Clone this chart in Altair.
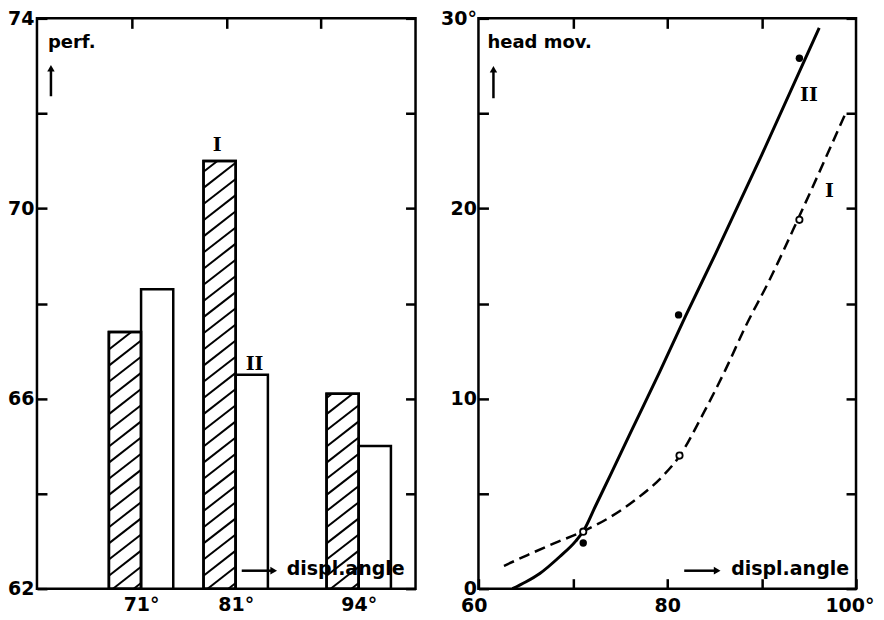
import altair as alt
import pandas as pd

# ---------------- data ----------------
# Left panel: performance per displacement angle
angles = [71, 81, 94]
perf_I = [67.4, 71.0, 66.1]     # hatched bars
perf_II = [68.3, 66.5, 65.0]    # open bars

# Right panel: head movement vs displacement angle
curve_II_x = [63.6, 65.0, 66.5, 68.6, 70.3, 71.2, 72.4, 74.0, 76.1, 79.2, 82.0, 85.2, 90.0, 96.1]
curve_II_y = [0.0, 0.35, 0.8, 1.68, 2.5, 3.1, 4.35, 6.0, 8.2, 11.4, 14.4, 17.7, 22.8, 29.5]
curve_I_x = [62.7, 65.2, 68.0, 71.1, 74.0, 76.8, 79.6, 81.3, 83.7, 86.2, 88.3, 90.8, 94.0, 98.8]
curve_I_y = [1.2, 1.77, 2.38, 3.02, 3.78, 4.74, 5.96, 6.97, 9.1, 11.55, 13.8, 16.2, 19.6, 24.9]
pts_II_x = [71.1, 81.2, 94.0]
pts_II_y = [2.4, 14.4, 27.9]
pts_I_x = [71.1, 81.3, 94.0]
pts_I_y = [3.0, 7.0, 19.4]

left_y_ticks = [62, 64, 66, 68, 70, 72, 74]
right_y_ticks = [0, 5, 10, 15, 20, 25, 30]
x_ticks = [60, 70, 80, 90, 100]
inner_x_ticks = [70, 80, 90]

# ---------------- styling constants ----------------
W, H = 379, 571
BAR_W = 3.4
HATCH_SLOPE = 0.155
HATCH_STEP = 0.34
FONT = "DejaVu Sans"
TICK = 10

bars = pd.DataFrame({"angle": angles, "I": perf_I, "II": perf_II})
bars["x0"] = bars["angle"] - BAR_W
bars["x1"] = bars["angle"] + BAR_W

# hatch lines derived from the hatched bars
rows = []
for a, top in zip(angles, perf_I):
    x0, x1 = a - BAR_W, a
    c = 62 - HATCH_SLOPE * BAR_W + 0.12
    while c < top:
        xs = max(x0, x0 + (62 - c) / HATCH_SLOPE)
        xe = min(x1, x0 + (top - c) / HATCH_SLOPE)
        if xe > xs:
            rows.append(dict(x=xs, x2=xe, y=c + HATCH_SLOPE * (xs - x0),
                             y2=c + HATCH_SLOPE * (xe - x0)))
        c += HATCH_STEP
hatch = pd.DataFrame(rows)

xsc = alt.Scale(domain=[60, 100], nice=False, zero=False)
ysc_l = alt.Scale(domain=[62, 74], nice=False, zero=False)
ysc_r = alt.Scale(domain=[0, 30], nice=False, zero=False)

one = pd.DataFrame({"k": [0]})

def ax(orient, values, labels=True, label_expr=None, ticks=True, pad=4, flush=False, flush_off=0):
    kw = dict(orient=orient, values=values, title=None, grid=False, domain=False,
              labels=labels, ticks=ticks, labelFont=FONT, labelFontWeight="bold",
              labelFontSize=19, labelColor="black", tickColor="black", tickWidth=2.5,
              labelPadding=pad, labelFlush=flush, labelOverlap=False)
    if flush:
        kw["labelFlushOffset"] = flush_off
    if ticks:
        kw.update(tickSize=TICK, offset=-TICK)
    else:
        kw.update(tickSize=0)
    if label_expr:
        kw["labelExpr"] = label_expr
    return alt.Axis(**kw)

def text(t, x, y, size=18, font=FONT, weight="bold"):
    return alt.Chart(one).mark_text(text=t, align="left", baseline="middle", font=font,
                                    fontWeight=weight, fontSize=size, color="black").encode(
        x=alt.value(x), y=alt.value(y))

def up_arrow(x, y_top, y_bot):
    shaft = alt.Chart(one).mark_rule(color="black", strokeWidth=2.5).encode(
        x=alt.value(x), y=alt.value(y_top + 6), y2=alt.value(y_bot))
    head = alt.Chart(one).mark_point(shape="triangle-up", filled=True, size=55, color="black",
                                     opacity=1).encode(x=alt.value(x), y=alt.value(y_top + 4))
    return shaft + head

def right_arrow(x1, x2, y):
    shaft = alt.Chart(one).mark_rule(color="black", strokeWidth=2.5).encode(
        x=alt.value(x1), x2=alt.value(x2 - 6), y=alt.value(y))
    head = alt.Chart(one).mark_point(shape="triangle-right", filled=True, size=60, color="black",
                                     opacity=1).encode(x=alt.value(x2 - 4), y=alt.value(y))
    return shaft + head

# ---------------- left panel ----------------
bars_I = alt.Chart(bars).mark_bar(fill="white", stroke="black", strokeWidth=2.5).encode(
    x=alt.X("x0:Q", scale=xsc, axis=ax("bottom", angles, ticks=False,
                                       label_expr="datum.value + '°'", pad=7)),
    x2="angle:Q",
    y=alt.Y("I:Q", scale=ysc_l, axis=ax("left", left_y_ticks,
                                        label_expr="datum.value % 4 == 2 ? datum.label : ''", pad=3)),
    y2=alt.datum(62),
)
bars_II = alt.Chart(bars).mark_bar(fill="white", stroke="black", strokeWidth=2.5).encode(
    x=alt.X("angle:Q", scale=xsc, axis=ax("top", inner_x_ticks, labels=False)),
    x2="x1:Q",
    y=alt.Y("II:Q", scale=ysc_l, axis=ax("right", left_y_ticks, labels=False)),
    y2=alt.datum(62),
)
hatch_lines = alt.Chart(hatch).mark_rule(color="black", strokeWidth=2).encode(
    x=alt.X("x:Q", scale=xsc, axis=None), x2="x2:Q",
    y=alt.Y("y:Q", scale=ysc_l, axis=None), y2="y2:Q",
)
bars_I_outline = alt.Chart(bars).mark_bar(fill=None, fillOpacity=0, stroke="black",
                                          strokeWidth=2.5).encode(
    x=alt.X("x0:Q", scale=xsc, axis=None), x2="angle:Q",
    y=alt.Y("I:Q", scale=ysc_l, axis=None), y2=alt.datum(62),
)

left = alt.layer(
    bars_I, bars_II, hatch_lines, bars_I_outline,
    text("perf.", 11, 25),
    up_arrow(14, 46, 78),
    text("I", 176, 127, size=19, font="DejaVu Serif"),
    text("II", 209, 346, size=19, font="DejaVu Serif"),
    right_arrow(205, 241, 553),
    text("displ.angle", 250, 551, size=19),
).resolve_axis(x="independent", y="independent").properties(width=W, height=H)

# ---------------- right panel ----------------
dfII = pd.DataFrame({"x": curve_II_x, "y": curve_II_y})
dfI = pd.DataFrame({"x": curve_I_x, "y": curve_I_y})
pII = pd.DataFrame({"x": pts_II_x, "y": pts_II_y})
pI = pd.DataFrame({"x": pts_I_x, "y": pts_I_y})

line_II = alt.Chart(dfII).mark_line(color="black", strokeWidth=3, interpolate="monotone").encode(
    x=alt.X("x:Q", scale=xsc, axis=ax("bottom", x_ticks,
            label_expr="datum.value == 100 ? '100°' : (datum.value % 20 == 0 ? datum.label : '')",
            pad=8, flush=True, flush_off=18)),
    y=alt.Y("y:Q", scale=ysc_r, axis=ax("left", right_y_ticks,
            label_expr="datum.value == 30 ? '30°' : (datum.value % 10 == 0 ? datum.label : '')", pad=2)),
)
line_I = alt.Chart(dfI).mark_line(color="black", strokeWidth=2.5, strokeDash=[11, 6],
                                  interpolate="monotone").encode(
    x=alt.X("x:Q", scale=xsc, axis=ax("top", inner_x_ticks, labels=False)),
    y=alt.Y("y:Q", scale=ysc_r, axis=ax("right", right_y_ticks, labels=False)),
)
dots_II = alt.Chart(pII).mark_point(filled=True, color="black", size=55, opacity=1).encode(
    x=alt.X("x:Q", scale=xsc, axis=None), y=alt.Y("y:Q", scale=ysc_r, axis=None))
dots_I = alt.Chart(pI).mark_point(filled=True, fill="white", stroke="black", strokeWidth=1.8,
                                  size=40, opacity=1).encode(
    x=alt.X("x:Q", scale=xsc, axis=None), y=alt.Y("y:Q", scale=ysc_r, axis=None))

right = alt.layer(
    line_II, line_I, dots_II, dots_I,
    text("head mov.", 9, 25),
    up_arrow(15, 47, 80),
    text("II", 322, 77, size=19, font="DejaVu Serif"),
    text("I", 347, 173, size=19, font="DejaVu Serif"),
    right_arrow(206, 243, 553),
    text("displ.angle", 253, 551, size=19),
).resolve_axis(x="independent", y="independent").properties(width=W - 1, height=H)

chart = alt.hconcat(left, right, spacing=63, bounds="flush").properties(
    padding={"left": -2, "top": -1, "right": 0, "bottom": -3}, background="white"
).configure_view(stroke="black", strokeWidth=2.5)

chart.save("out.html", embed_options={"renderer": "svg", "actions": False})
